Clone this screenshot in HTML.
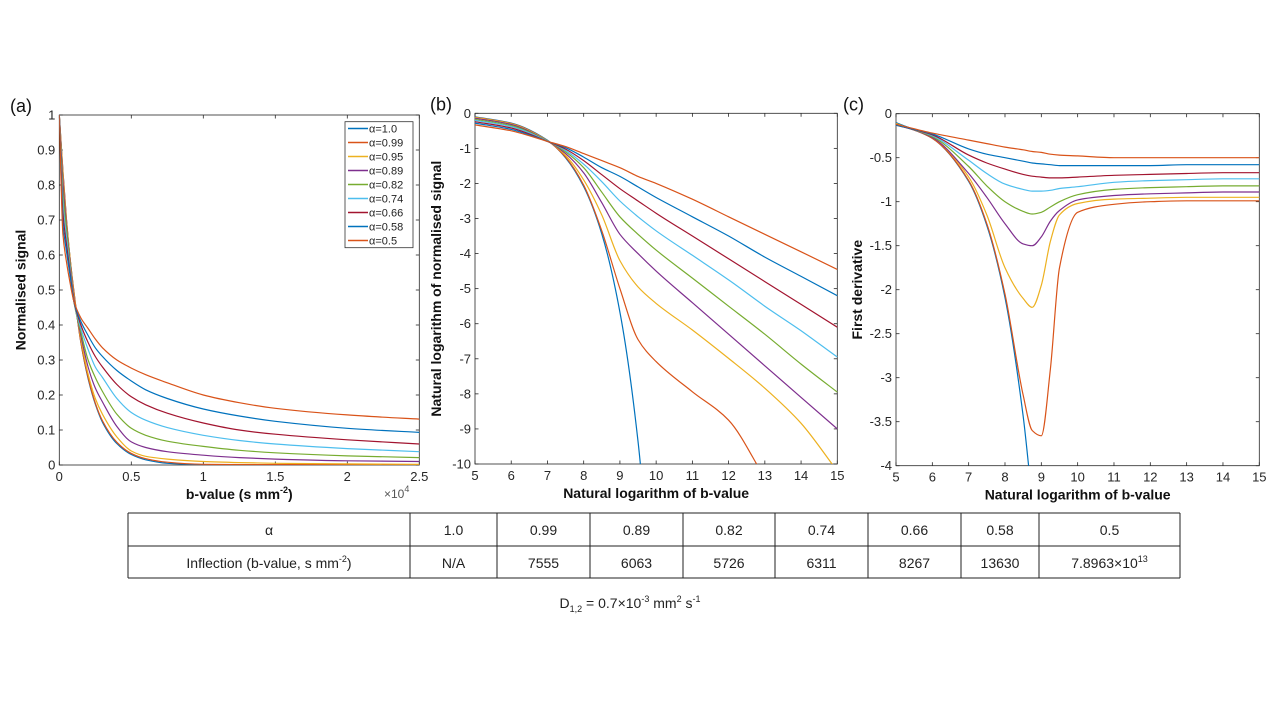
<!DOCTYPE html>
<html><head><meta charset="utf-8"><style>
html,body{margin:0;padding:0;background:#fff;}
svg{display:block;font-family:"Liberation Sans",sans-serif;}
</style></head><body>
<svg id="fig" width="1280" height="720" viewBox="0 0 1280 720">
<g id="pa"></g>
<g id="pb"></g>
<g id="pc"></g>
<g id="tbl"></g>
<text x="630" y="608" font-size="14" text-anchor="middle" fill="#222">D<tspan font-size="9" dy="4">1,2</tspan><tspan dy="-4"> = 0.7×10</tspan><tspan font-size="9" dy="-6">-3</tspan><tspan dy="6"> mm</tspan><tspan font-size="9" dy="-6">2</tspan><tspan dy="6"> s</tspan><tspan font-size="9" dy="-6">-1</tspan></text>
</svg>
<script>
const NS="http://www.w3.org/2000/svg";
const alphas=["1.0","0.99","0.95","0.89","0.82","0.74","0.66","0.58","0.5"];
const colors=["#0072BD","#D95319","#EDB120","#7E2F8E","#77AC30","#4DBEEE","#A2142F","#0072BD","#D95319"];
// Panel (a): x in units of 1e4 s/mm2
const aX=[0,0.025,0.05,0.075,0.1,0.15,0.2,0.25,0.3,0.4,0.5,0.6,0.75,1,1.25,1.5,2,2.5];
const aY=[
[1,.84,.70,.59,.50,.35,.247,.174,.122,.061,.030,.015,.005,.001,0,0,0,0],
[1,.84,.70,.59,.50,.35,.25,.177,.126,.065,.033,.018,.008,.002,.001,.001,.001,.001],
[1,.83,.69,.59,.49,.36,.26,.19,.145,.08,.04,.025,.017,.01,.007,.005,.003,.002],
[1,.81,.68,.58,.48,.37,.28,.22,.18,.11,.066,.05,.038,.028,.021,.017,.012,.01],
[1,.78,.67,.57,.47,.38,.30,.25,.21,.145,.105,.085,.068,.053,.042,.035,.026,.021],
[1,.75,.65,.56,.47,.39,.33,.28,.25,.19,.15,.128,.107,.085,.07,.06,.047,.038],
[1,.72,.63,.55,.47,.40,.35,.31,.28,.23,.195,.172,.148,.12,.1,.088,.072,.06],
[1,.69,.61,.54,.47,.41,.37,.335,.31,.27,.24,.215,.19,.16,.14,.125,.105,.093],
[1,.66,.58,.52,.47,.42,.39,.36,.335,.30,.277,.258,.235,.20,.178,.162,.143,.131]];
// Panel (b): ln(b) vs ln(signal)
const bX=[5,6,7,7.5,8,8.5,9,9.5,10,11,12,13,14,15];
const bY=[
[-0.10,-0.28,-0.77,-1.27,-2.09,-3.44,-5.67,-9.35,-15.4,null,null,null,null,null],
[-0.11,-0.29,-0.78,-1.25,-2.05,-3.35,-5.0,-6.45,-7.08,-7.94,-8.75,-10.4,null,null],
[-0.12,-0.30,-0.78,-1.2,-1.9,-2.9,-4.2,-4.95,-5.42,-6.18,-6.99,-7.84,-8.84,-10.2],
[-0.14,-0.32,-0.79,-1.15,-1.7,-2.55,-3.45,-4.0,-4.5,-5.4,-6.3,-7.2,-8.1,-9.0],
[-0.17,-0.35,-0.79,-1.1,-1.55,-2.25,-2.95,-3.45,-3.9,-4.7,-5.5,-6.3,-7.15,-7.95],
[-0.20,-0.38,-0.79,-1.06,-1.45,-1.95,-2.5,-2.95,-3.35,-4.05,-4.75,-5.5,-6.2,-6.95],
[-0.24,-0.42,-0.80,-1.02,-1.35,-1.75,-2.15,-2.5,-2.85,-3.5,-4.15,-4.8,-5.45,-6.1],
[-0.28,-0.46,-0.80,-0.98,-1.25,-1.55,-1.8,-2.1,-2.4,-2.95,-3.5,-4.1,-4.65,-5.2],
[-0.33,-0.50,-0.80,-0.95,-1.15,-1.35,-1.55,-1.8,-2.0,-2.45,-2.95,-3.45,-3.95,-4.45]];
// Panel (c): first derivative
const cX=[5,6,7,7.5,8,8.5,8.75,9,9.25,9.5,10,11,12,13,14,15];
const cY=[
[-0.10,-0.28,-0.77,-1.27,-2.09,-3.44,-4.4,null,null,null,null,null,null,null,null,null],
[-0.11,-0.28,-0.76,-1.25,-2.05,-3.2,-3.6,-3.66,-2.9,-1.75,-1.12,-1.03,-1.0,-0.99,-0.99,-0.99],
[-0.11,-0.27,-0.72,-1.15,-1.75,-2.1,-2.2,-1.95,-1.45,-1.15,-1.02,-0.97,-0.96,-0.95,-0.95,-0.95],
[-0.12,-0.27,-0.68,-0.95,-1.25,-1.48,-1.5,-1.4,-1.22,-1.1,-0.98,-0.93,-0.91,-0.9,-0.89,-0.89],
[-0.12,-0.26,-0.6,-0.82,-1.0,-1.11,-1.14,-1.12,-1.06,-1.0,-0.92,-0.86,-0.84,-0.83,-0.82,-0.82],
[-0.12,-0.25,-0.53,-0.68,-0.8,-0.86,-0.88,-0.88,-0.87,-0.85,-0.83,-0.78,-0.76,-0.75,-0.74,-0.74],
[-0.13,-0.24,-0.47,-0.56,-0.63,-0.69,-0.71,-0.72,-0.73,-0.73,-0.72,-0.7,-0.69,-0.68,-0.67,-0.67],
[-0.13,-0.23,-0.4,-0.46,-0.5,-0.54,-0.56,-0.57,-0.58,-0.59,-0.59,-0.59,-0.59,-0.58,-0.58,-0.58],
[-0.12,-0.22,-0.3,-0.34,-0.38,-0.41,-0.43,-0.44,-0.46,-0.47,-0.48,-0.5,-0.5,-0.5,-0.5,-0.5]];
const aTicksX=["0","0.5","1","1.5","2","2.5"], aTicksY=["0","0.1","0.2","0.3","0.4","0.5","0.6","0.7","0.8","0.9","1"];
const bTicksX=["5","6","7","8","9","10","11","12","13","14","15"], bTicksY=["-10","-9","-8","-7","-6","-5","-4","-3","-2","-1","0"];
const cTicksY=["-4","-3.5","-3","-2.5","-2","-1.5","-1","-0.5","0"];

function el(p,tag,attrs,txt){const e=document.createElementNS(NS,tag);for(const k in attrs)e.setAttribute(k,attrs[k]);if(txt!=null)e.textContent=txt;p.appendChild(e);return e;}
// monotone cubic (Fritsch-Carlson) path
function smooth(P){const n=P.length;if(n<2)return "";
 const dx=[],m=[],t=[];
 for(let i=0;i<n-1;i++){dx[i]=P[i+1][0]-P[i][0];m[i]=(P[i+1][1]-P[i][1])/dx[i];}
 t[0]=m[0];t[n-1]=m[n-2];
 for(let i=1;i<n-1;i++){if(m[i-1]*m[i]<=0)t[i]=0;else{const w1=2*dx[i]+dx[i-1],w2=dx[i]+2*dx[i-1];t[i]=(w1+w2)/(w1/m[i-1]+w2/m[i]);}}
 let d="M"+P[0][0].toFixed(1)+","+P[0][1].toFixed(1);
 for(let i=0;i<n-1;i++){const h=dx[i]/3;
  d+="C"+(P[i][0]+h).toFixed(1)+","+(P[i][1]+t[i]*h).toFixed(1)+" "+(P[i+1][0]-h).toFixed(1)+","+(P[i+1][1]-t[i+1]*h).toFixed(1)+" "+P[i+1][0].toFixed(1)+","+P[i+1][1].toFixed(1);}
 return d;}
function panel(g,id,L,R,T,B,xmin,xmax,ymin,ymax,xt,yt,X,Ys,xlabel,ylabel,letter,lx){
 const sx=v=>L+(v-xmin)/(xmax-xmin)*(R-L), sy=v=>B-(v-ymin)/(ymax-ymin)*(B-T);
 const cp=el(document.getElementById("fig"),"clipPath",{id:"clip"+id});el(cp,"rect",{x:L,y:T,width:R-L,height:B-T});
 const t=el(g,"text",{x:lx,y:T-3,"font-size":18,fill:"#111"},letter);
 
 
 const box=el(g,"rect",{x:L,y:T,width:R-L,height:B-T,fill:"none",stroke:"#262626","stroke-width":0.8});
 
 
 xt.forEach(s=>{const v=parseFloat(s),x=sx(v);
  el(g,"line",{x1:x,y1:B,x2:x,y2:B-3.5,stroke:"#262626","stroke-width":0.8});
  el(g,"line",{x1:x,y1:T,x2:x,y2:T+3.5,stroke:"#262626","stroke-width":0.8});
  const tl=el(g,"text",{x:x,y:B+16,"font-size":13,"text-anchor":"middle",fill:"#262626"},s);
  
  });
 yt.forEach(s=>{const v=parseFloat(s),y=sy(v);
  el(g,"line",{x1:L,y1:y,x2:L+3.5,y2:y,stroke:"#262626","stroke-width":0.8});
  el(g,"line",{x1:R,y1:y,x2:R-3.5,y2:y,stroke:"#262626","stroke-width":0.8});
  const tl=el(g,"text",{x:L-4,y:y+4.5,"font-size":13,"text-anchor":"end",fill:"#262626"},s);
  
  });
 const sg=el(g,"g",{"clip-path":"url(#clip"+id+")"});
 Ys.forEach((ys,i)=>{const pts=[];ys.forEach((v,j)=>{if(v!=null)pts.push([sx(X[j]),sy(v)]);});
  const p=el(sg,"path",{d:smooth(pts),fill:"none",stroke:colors[i],"stroke-width":1.2});
  
  });
 const xl=el(g,"text",{x:(L+R)/2,y:B+34,"font-size":14,"font-weight":"bold","text-anchor":"middle",fill:"#111"});
 xl.innerHTML=xlabel;
 
 
 const yl=el(g,"text",{x:0,y:0,"font-size":14,"font-weight":"bold","text-anchor":"middle",fill:"#111",transform:"translate("+(L-34)+","+((T+B)/2)+") rotate(-90)"},ylabel);
 
 
 return {sx,sy};
}
panel(document.getElementById("pa"),"a",59.3,419.3,115,465,0,2.5,0,1,aTicksX,aTicksY,aX,aY,'b-value (s mm<tspan font-size="9" dy="-6">-2</tspan><tspan dy="6">)</tspan>',"Normalised signal","(a)",10);
panel(document.getElementById("pb"),"b",475,837.3,113.3,464,5,15,-10,0,bTicksX,bTicksY,bX,bY,"Natural logarithm of b-value","Natural logarithm of normalised signal","(b)",430);
panel(document.getElementById("pc"),"c",896,1259.3,113.7,465.7,5,15,-4,0,bTicksX,cTicksY,cX,cY,"Natural logarithm of b-value","First derivative","(c)",843);
const pa=document.getElementById("pa");
const mul=el(pa,"text",{x:384,y:498,"font-size":12,fill:"#555"});
mul.innerHTML='×10<tspan font-size="9" dy="-6">4</tspan>';


const lg=el(pa,"g",{});


el(lg,"rect",{x:345,y:121.7,width:68,height:126,fill:"#fff",stroke:"#333","stroke-width":0.8});
alphas.forEach((a,i)=>{const y=128.5+i*14;
 el(lg,"line",{x1:348,y1:y,x2:368,y2:y,stroke:colors[i],"stroke-width":1.5});
 const t=el(lg,"text",{x:369,y:y+4,"font-size":11,fill:"#222"},"\u03B1="+a);
 
 });
const tb=document.getElementById("tbl");
const cols=[128,410,497,590,683,775,868,961,1039,1180];
const rows=[513,546,578];
const head=["\u03B1","1.0","0.99","0.89","0.82","0.74","0.66","0.58","0.5"];
const infl=["Inflection (b-value, s mm<tspan font-size='9' dy='-6'>-2</tspan><tspan dy='6'>)</tspan>","N/A","7555","6063","5726","6311","8267","13630","7.8963×10<tspan font-size='9' dy='-6'>13</tspan>"];
rows.forEach(y=>el(tb,"line",{x1:cols[0],y1:y,x2:cols[9],y2:y,stroke:"#222","stroke-width":1}));
cols.forEach(x=>el(tb,"line",{x1:x,y1:rows[0],x2:x,y2:rows[2],stroke:"#222","stroke-width":1}));
[head,infl].forEach((r,ri)=>r.forEach((s,ci)=>{
 const t=el(tb,"text",{x:(cols[ci]+cols[ci+1])/2,y:rows[ri]+22,"font-size":14,"text-anchor":"middle",fill:"#222"});
 t.innerHTML=s;
 
 }));
</script>
</body></html>
